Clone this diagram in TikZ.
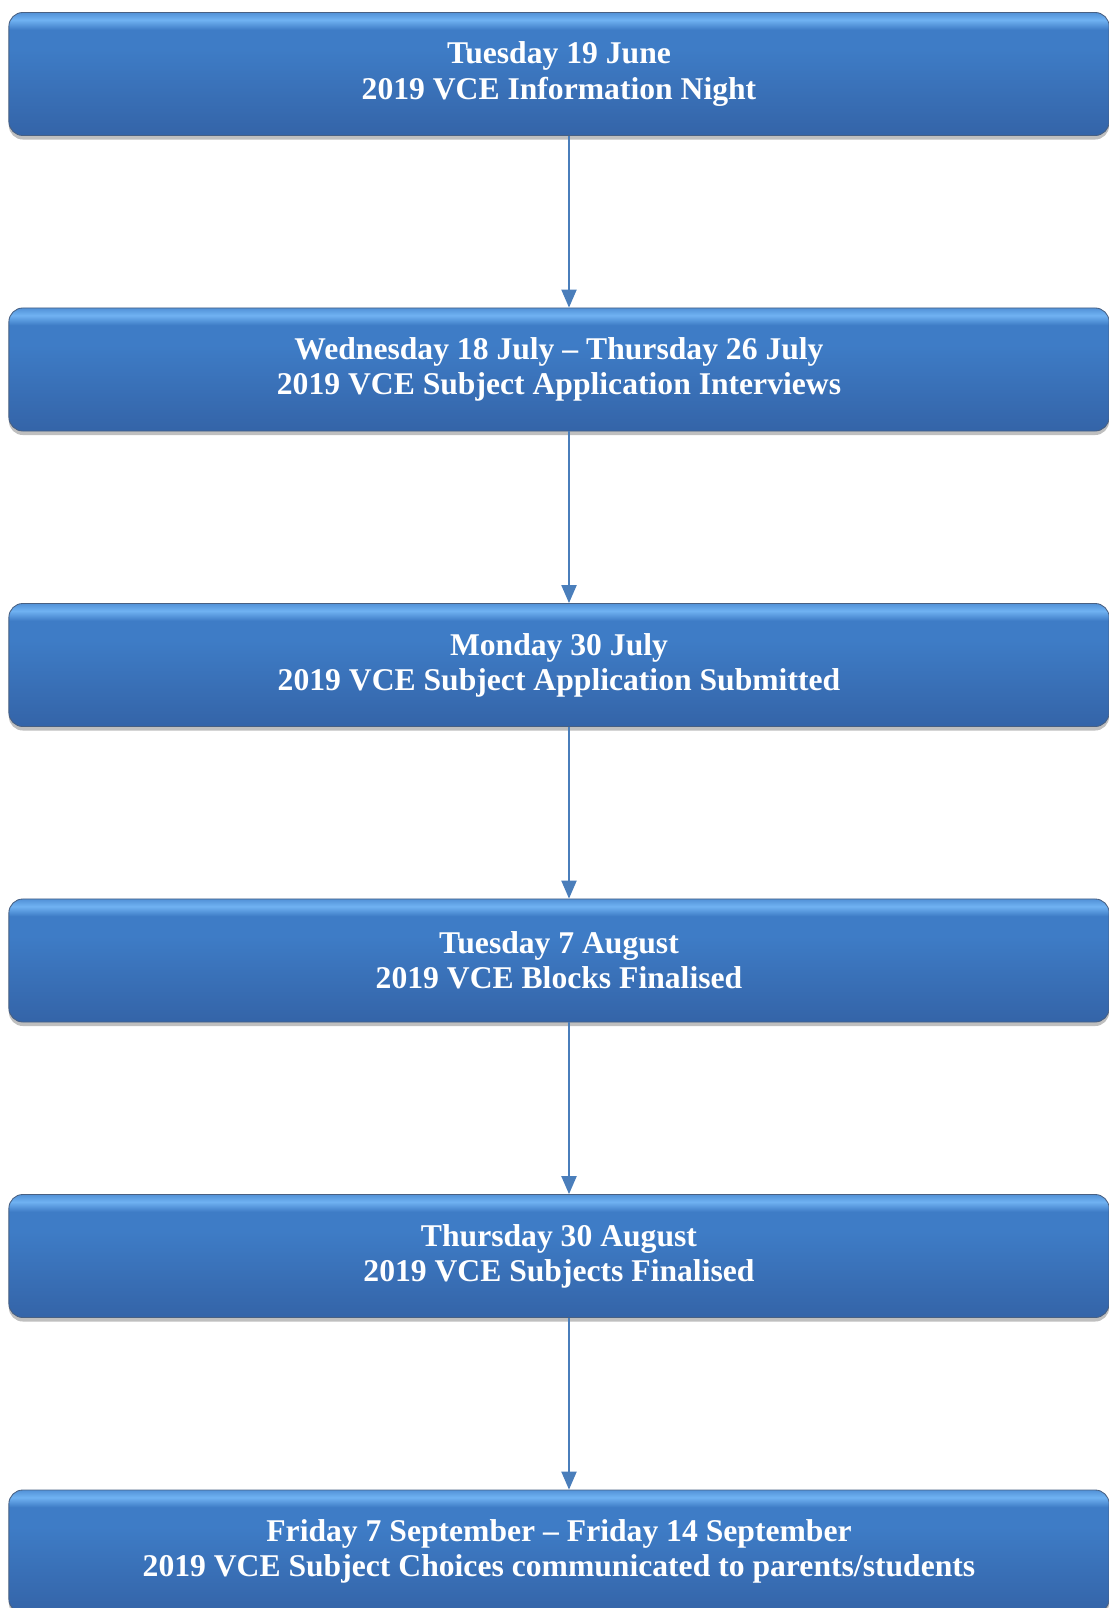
\documentclass[tikz,border=0pt]{standalone}
\usepackage{fontspec}
\setmainfont{Liberation Serif}
\usetikzlibrary{arrows.meta,shadows}
\definecolor{boxbot}{RGB}{52,100,168}
\definecolor{boxmid}{RGB}{62,124,198}
\definecolor{boxhi}{RGB}{112,178,242}
\definecolor{boxline}{RGB}{72,96,130}
\definecolor{arrowblue}{RGB}{74,126,187}
\pgfdeclareverticalshading{vceshade}{100bp}{color(0bp)=(boxbot); color(25bp)=(boxbot); color(60bp)=(boxmid); color(68bp)=(boxmid); color(72bp)=(boxhi); color(75bp)=(boxmid!60!boxhi); color(100bp)=(boxmid!60!boxhi)}
\begin{document}
\begin{tikzpicture}[x=0.025cm,y=-0.025cm,font=\fontsize{22.5}{25}\selectfont\bfseries,
 vcebox/.style={draw=boxline,line width=0.6pt,shading=vceshade,rounded corners=0.35cm,
  minimum width=27.5cm,minimum height=3.075cm,text=white,align=center,inner sep=0pt,
  drop shadow={shadow xshift=0pt,shadow yshift=-0.1cm,opacity=0.25,fill=black}},
 vcearrow/.style={draw=arrowblue,line width=1.1pt,-{Triangle[length=0.45cm,width=0.38cm]}}]
 \useasboundingbox (0,0) rectangle (1109,1608);
 \def\gap{295.5}
 \node[vcebox] (b1) at (559,74) {Tuesday 19 June\\2019 VCE Information Night};
 \node[vcebox] (b2) at (559,74+\gap) {Wednesday 18 July -- Thursday 26 July\\2019 VCE Subject Application Interviews};
 \node[vcebox] (b3) at (559,74+2*\gap) {Monday 30 July\\2019 VCE Subject Application Submitted};
 \node[vcebox] (b4) at (559,74+3*\gap) {Tuesday 7 August\\2019 VCE Blocks Finalised};
 \node[vcebox] (b5) at (559,74+4*\gap) {Thursday 30 August\\2019 VCE Subjects Finalised};
 \node[vcebox] (b6) at (559,74+5*\gap) {Friday 7 September -- Friday 14 September\\2019 VCE Subject Choices communicated to parents/students};
 \foreach \i/\j in {1/2,2/3,3/4,4/5,5/6}
  \draw[vcearrow] ([xshift=0.25cm]b\i.south) -- ([xshift=0.25cm]b\j.north);
\end{tikzpicture}
\end{document}
